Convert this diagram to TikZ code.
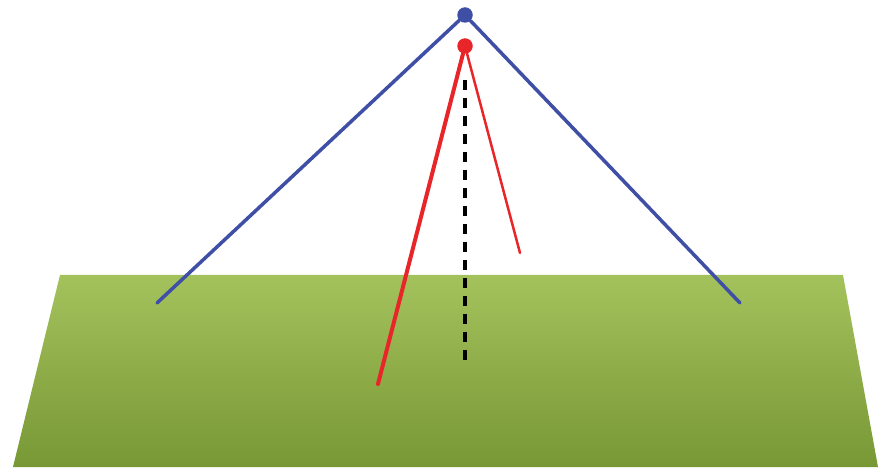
\documentclass[tikz,border=0pt]{standalone}
\begin{document}
\begin{tikzpicture}[x=1pt,y=-1pt,
  dotstyle/.style={circle,inner sep=0pt,minimum size=15.5pt},
  bluewire/.style={draw=wireblue,line width=3.5pt,line cap=round},
  redthick/.style={draw=wirered,line width=4pt,line cap=round},
  redthin/.style={draw=wirered,line width=2.5pt,line cap=round},
  plumb/.style={draw=black,line width=4pt,dash pattern=on 10pt off 8pt}]
\definecolor{wireblue}{HTML}{3F4FA6}
\definecolor{wirered}{HTML}{E8262A}
\definecolor{grasstop}{HTML}{A4C25C}
\definecolor{grassbot}{HTML}{789836}
\useasboundingbox (0,0) rectangle (879,473);
\shade[top color=grasstop,bottom color=grassbot] (60,275) -- (843,275) -- (878,467) -- (13,467) -- cycle;
\coordinate (bl) at (157,303);
\coordinate (br) at (740,303);
\coordinate (rt) at (378,384);
\coordinate (rs) at (520,253);
\coordinate (ptop) at (465,80);
\coordinate (pbot) at (465,366);
\draw[plumb] (ptop) -- (pbot);
\node[dotstyle,fill=wireblue] (blue) at (465,15) {};
\node[dotstyle,fill=wirered] (red) at (465,46) {};
\draw[bluewire] (blue) -- (bl);
\draw[bluewire] (blue) -- (br);
\draw[redthick] (red) -- (rt);
\draw[redthin] (red) -- (rs);
\end{tikzpicture}
\end{document}
